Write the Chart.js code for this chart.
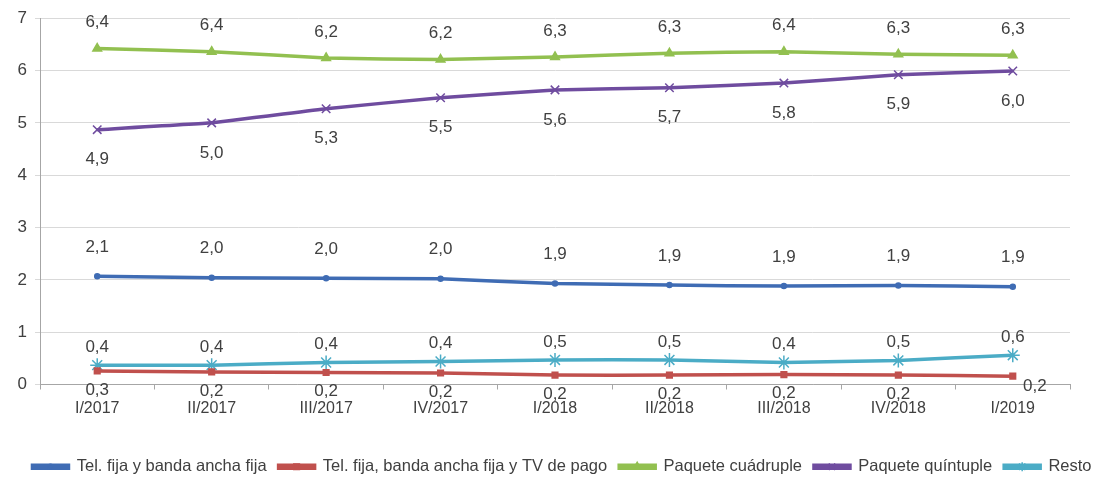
<!DOCTYPE html>
<html>
<head>
<meta charset="utf-8">
<script src="https://cdn.jsdelivr.net/npm/chart.js@4.4.1/dist/chart.umd.min.js"></script>
<style>
  html, body { margin: 0; padding: 0; background: #fff; }
  #wrap { width: 1116px; height: 479px; position: relative; }
</style>
</head>
<body>
<div id="wrap"><canvas id="grafico"></canvas></div>
<script>
// Trimestres
const trimestres = ["I/2017", "II/2017", "III/2017", "IV/2017", "I/2018", "II/2018", "III/2018", "IV/2018", "I/2019"];

// Series
const telBanda = [2.07, 2.04, 2.03, 2.02, 1.93, 1.90, 1.88, 1.89, 1.87];
const telBandaTv = [0.26, 0.24, 0.23, 0.22, 0.18, 0.18, 0.19, 0.18, 0.16];
const cuadruple = [6.42, 6.36, 6.24, 6.21, 6.26, 6.33, 6.36, 6.31, 6.29];
const quintuple = [4.87, 5.00, 5.27, 5.48, 5.63, 5.67, 5.76, 5.92, 5.99];
const resto = [0.37, 0.37, 0.42, 0.44, 0.47, 0.47, 0.42, 0.46, 0.56];

const nombres = [
    "Tel. fija y banda ancha fija",
    "Tel. fija, banda ancha fija y TV de pago",
    "Paquete cuádruple",
    "Paquete quíntuple",
    "Resto"
];

const FUENTE = "'Liberation Sans', Arial, sans-serif";

// Etiquetas de valor (sin plugin externo)
const etiquetas = {
    id: "etiquetas",
    afterDatasetsDraw(chart) {
        const ctx = chart.ctx;
        ctx.save();
        ctx.font = "17px " + FUENTE;
        ctx.fillStyle = "#404040";
        ctx.textAlign = "center";
        ctx.textBaseline = "middle";
        chart.data.datasets.forEach((ds, i) => {
            const meta = chart.getDatasetMeta(i);
            meta.data.forEach((pt, j) => {
                const txt = ds.data[j].toFixed(1).replace(".", ",");
                let dx = 0, dy = ds.offsetY;
                if (ds.ultimoDerecha && j === ds.data.length - 1) { dx = 22; dy = 10; }
                ctx.fillText(txt, pt.x + dx, pt.y + dy);
            });
        });
        ctx.restore();
    }
};

// Marcador en medio de la linea de la leyenda
const marcadoresLeyenda = {
    id: "marcadoresLeyenda",
    afterDraw(chart) {
        const lg = chart.legend;
        if (!lg || !lg.legendHitBoxes) return;
        const ctx = chart.ctx;
        const bw = lg.options.labels.boxWidth;
        lg.legendHitBoxes.forEach((hb, i) => {
            const ds = chart.data.datasets[i];
            ctx.save();
            ctx.strokeStyle = ds.borderColor;
            ctx.fillStyle = ds.borderColor;
            ctx.lineWidth = 1.5;
            Chart.helpers.drawPoint(ctx, {
                pointStyle: ds.pointStyle,
                radius: Math.min(ds.pointRadius, 4.5),
                rotation: 0,
                borderWidth: 1.5
            }, hb.left + bw / 2, hb.top + hb.height / 2);
            ctx.restore();
        });
    }
};

function serie(i, data, color, estilo, radio, offsetY) {
    return {
        label: nombres[i],
        data,
        borderColor: color,
        backgroundColor: color,
        borderWidth: 3.5,
        pointStyle: estilo,
        pointRadius: radio,
        pointBorderWidth: 1.5,
        pointBorderColor: color,
        pointBackgroundColor: color,
        tension: 0.1,
        offsetY
    };
}

const datasets = [
    serie(0, telBanda, "#3f6cb4", "circle", 2.5, -29),
    Object.assign(serie(1, telBandaTv, "#c0504d", "rect", 4, 19), { ultimoDerecha: true }),
    serie(2, cuadruple, "#92c050", "triangle", 5, -26),
    serie(3, quintuple, "#6f4c9f", "crossRot", 6, 30),
    serie(4, resto, "#4bacc6", "star", 7, -18)
];

new Chart(document.getElementById("grafico"), {
    type: "line",
    data: { labels: trimestres, datasets },
    plugins: [etiquetas, marcadoresLeyenda],
    options: {
        responsive: true,
        maintainAspectRatio: false,
        animation: false,
        layout: { padding: { left: 8, right: 0, top: 7, bottom: -6 } },
        plugins: {
            tooltip: { enabled: false },
            legend: {
                position: "bottom",
                labels: {
                    boxWidth: 36,
                    boxHeight: 3,
                    padding: 12,
                    color: "#404040",
                    font: { family: FUENTE, size: 16.5 }
                }
            }
        },
        scales: {
            x: {
                offset: true,
                afterFit: (s) => { s.height = 62; },
                grid: {
                    display: true,
                    drawOnChartArea: false,
                    offset: true,
                    tickLength: 5,
                    color: "#a6a6a6"
                },
                border: { color: "#a6a6a6", width: 1 },
                ticks: {
                    color: "#404040",
                    font: { family: FUENTE, size: 16 },
                    padding: 9,
                    maxRotation: 0
                }
            },
            y: {
                min: 0,
                max: 7,
                afterFit: (s) => { s.width = 32; },
                ticks: {
                    stepSize: 1,
                    color: "#404040",
                    font: { family: FUENTE, size: 17 },
                    padding: 8
                },
                grid: { color: "#d9d9d9", tickLength: 5 },
                border: { color: "#a6a6a6" }
            },
            // margen derecho sin afectar a la leyenda
            margenDer: {
                position: "right",
                display: true,
                afterFit: (s) => { s.width = 46; },
                grid: { display: false },
                ticks: { display: false },
                border: { display: false }
            }
        }
    }
});
</script>
</body>
</html>
